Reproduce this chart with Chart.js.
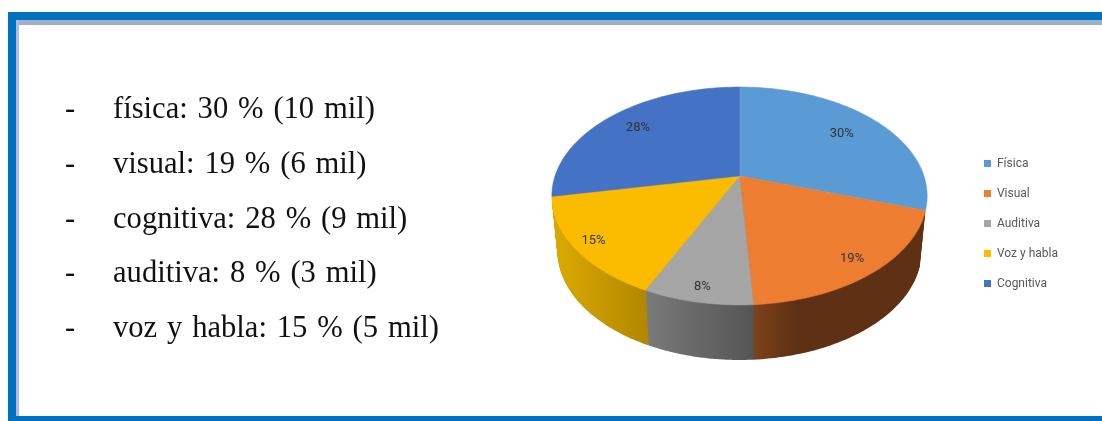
<!DOCTYPE html>
<html>
<head>
<meta charset="utf-8">
<script src="https://cdn.jsdelivr.net/npm/chart.js@4"></script>
<style>
html, body { margin: 0; padding: 0; background: #fff; overflow: hidden; }
#page { position: relative; width: 1102px; height: 421px; overflow: hidden; }
.bar { position: absolute; }
#myChart { position: absolute; left: 0; top: 0; filter: blur(0.7px); }
.row { position: absolute; font-family: "Liberation Serif", serif; font-size: 30.6px; word-spacing: 2.2px; line-height: 34px; color: #111; white-space: pre; }
</style>
</head>
<body>
<div id="page">
    <div class="bar" style="left:8px;top:12px;width:1094px;height:8px;background:#0070c0"></div>
    <div class="bar" style="left:16px;top:20px;width:1086px;height:5px;background:#9fb1c9"></div>
    <div class="bar" style="left:8px;top:12px;width:8px;height:409px;background:#0070c0"></div>
    <div class="bar" style="left:16px;top:20px;width:3px;height:396px;background:#aebdd2"></div>
    <div class="bar" style="left:8px;top:416px;width:1094px;height:5px;background:#0070c0"></div>
    <canvas id="myChart" width="1102" height="421"></canvas>
</div>
<script>
//left side list
let listLines = ['física: 30 % (10 mil)', 'visual: 19 % (6 mil)', 'cognitiva: 28 % (9 mil)', 'auditiva: 8 % (3 mil)', 'voz y habla: 15 % (5 mil)'];

//pie chart
let labels1 = ['Física', 'Visual', 'Auditiva', 'Voz y habla', 'Cognitiva'];
let data1 = [30, 19, 8, 15, 28];
let colors1 = ['#5b9bd5', '#ed7d31', '#a5a5a5', '#fbbc00', '#4472c4'];

//side wall colours, light to dark from left to right
let sideColors1 = [null, ['#7c421b', '#5f3114'], ['#7a7a7a', '#555555'], ['#dcaa00', '#b38800'], null];
let labelRadius1 = [0.74, 0.87, 0.9, 0.9, 0.78];

// the top face is a tilted disc seen in perspective
const centerX = 739.5, centerY = 176;
const radiusX = 184.5, radiusY = 105.3, tilt = -0.1835;
const depth = 55, narrow = 0.03;

function project(angle, r) {
    const u = Math.cos(angle) * r;
    const v = Math.sin(angle) * r;
    const w = 1 + tilt * v;
    return { x: radiusX * u / w, y: radiusY * v / w };
}

function slicePath(ctx, arc, drop, scale) {
    ctx.beginPath();
    ctx.moveTo(centerX, centerY + drop);
    const steps = 60;
    for (let i = 0; i <= steps; i++) {
        const angle = arc.startAngle + (arc.endAngle - arc.startAngle) * i / steps;
        const p = project(angle, 1);
        ctx.lineTo(centerX + p.x * scale, centerY + p.y + drop);
    }
    ctx.closePath();
}

const pie3d = {
    id: 'pie3d',
    beforeDatasetDraw(chart, args) {
        const ctx = chart.ctx;
        const arcs = args.meta.data;

        // side walls, stacked from the bottom up
        for (let d = depth; d > 0; d--) {
            arcs.forEach((arc, i) => {
                if (!sideColors1[i]) return;
                const from = project(arc.startAngle, 1).x;
                const to = project(arc.endAngle, 1).x;
                const left = centerX + Math.min(from, to);
                const right = centerX + Math.max(from, to);
                const grad = ctx.createLinearGradient(left, 0, right, 0);
                grad.addColorStop(0, sideColors1[i][0]);
                grad.addColorStop(i === 1 ? 0.25 : 1, sideColors1[i][1]);
                grad.addColorStop(1, sideColors1[i][1]);
                slicePath(ctx, arc, d, 1 - narrow * d / depth);
                ctx.fillStyle = grad;
                ctx.fill();
            });
        }

        // top face
        arcs.forEach((arc, i) => {
            slicePath(ctx, arc, 0, 1);
            ctx.fillStyle = colors1[i];
            ctx.fill();
            ctx.strokeStyle = colors1[i];
            ctx.lineWidth = 0.5;
            ctx.stroke();
        });

        // percent labels
        ctx.font = '13px "Roboto", sans-serif';
        ctx.fillStyle = '#333333';
        ctx.textAlign = 'center';
        ctx.textBaseline = 'middle';
        arcs.forEach((arc, i) => {
            const mid = (arc.startAngle + arc.endAngle) / 2;
            const p = project(mid, labelRadius1[i]);
            ctx.fillText(data1[i] + '%', centerX + p.x, centerY + p.y);
        });

        return false;
    }
};

let page = document.getElementById('page');
listLines.forEach((line, i) => {
    let top = 91 + i * 54.8;
    let dash = document.createElement('div');
    dash.className = 'row';
    dash.style.left = '65px';
    dash.style.top = top + 'px';
    dash.textContent = '-';
    page.appendChild(dash);
    let row = document.createElement('div');
    row.className = 'row';
    row.style.left = '113px';
    row.style.top = top + 'px';
    row.textContent = line;
    page.appendChild(row);
});

let myChart1 = document.getElementById('myChart').getContext('2d');

let chart1 = new Chart(myChart1, {

    type: 'pie',
    data: {

        labels: labels1,
        datasets: [{

            data: data1,
            backgroundColor: colors1,
            borderWidth: 0

        }]

    },

    options: {

        responsive: false,
        animation: false,
        layout: {
            padding: { top: 26, right: 34, left: 560 }
        },
        plugins: {
            legend: {
                position: 'right',
                labels: {
                    boxWidth: 7,
                    boxHeight: 7,
                    padding: 18,
                    color: '#595959',
                    font: { family: 'Roboto', size: 12 }
                }
            },
            tooltip: { enabled: false }
        }
    },

    plugins: [pie3d]

});
</script>
</body>
</html>
